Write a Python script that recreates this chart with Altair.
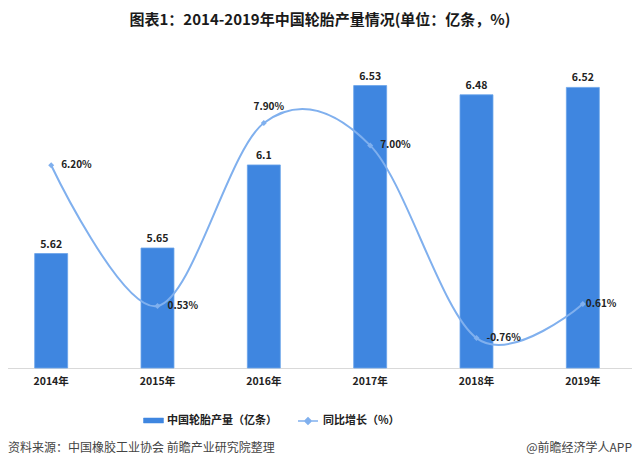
import altair as alt
import pandas as pd

# ---- data ----
years = ["2014年", "2015年", "2016年", "2017年", "2018年", "2019年"]
output = [5.62, 5.65, 6.1, 6.53, 6.48, 6.52]
growth = [6.20, 0.53, 7.90, 7.00, -0.76, 0.61]
series_bar = "中国轮胎产量（亿条）"
series_line = "同比增长（%）"
title_text = "图表1：2014-2019年中国轮胎产量情况(单位：亿条，%)"
source_left = "资料来源：中国橡胶工业协会 前瞻产业研究院整理"
source_right = "@前瞻经济学人APP"
bar_axis_min = 5

df = pd.DataFrame({"year": years, "output": output, "growth": growth})
df["bar_series"] = series_bar
df["line_series"] = series_line
df["growth_label"] = [f"{g:.2f}%" for g in growth]

FONT = "Noto Sans CJK SC"
BAR = "#3f86e0"
LINE = "#80b0ee"

RECT_PATH = "M-1,-0.25H1V0.25H-1Z"
LINE_PATH = "M-1,0H1M0,-0.32L0.32,0L0,0.32L-0.32,0Z"

x = alt.X(
    "year:N", sort=years,
    scale=alt.Scale(range=[-10, 628], paddingInner=0.69, paddingOuter=0.345),
    axis=alt.Axis(title=None, labelAngle=0, ticks=False, grid=False,
                  domainColor="#d9d9d9", domainWidth=1,
                  labelFont=FONT, labelFontSize=10.5, labelFontWeight="bold",
                  labelColor="#222222", labelPadding=8),
)
y_bar = alt.Y("output:Q", scale=alt.Scale(domain=[bar_axis_min, 6.7335], zero=False, nice=False), axis=None)
y_line = alt.Y("growth:Q", scale=alt.Scale(domain=[-1.965, 10.922], zero=False, nice=False), axis=None)

base = alt.Chart(df)

bars = base.mark_bar(stroke="#6aa3ea", strokeWidth=0.8).encode(
    x=x, y=y_bar, y2=alt.datum(bar_axis_min),
    fill=alt.Fill("bar_series:N",
                  scale=alt.Scale(domain=[series_bar], range=[BAR]),
                  legend=alt.Legend(title=None, orient="none", legendX=135, legendY=362,
                                    symbolType=RECT_PATH, symbolSize=400,
                                    symbolFillColor=BAR, symbolStrokeColor=BAR,
                                    symbolStrokeWidth=0.5, symbolOpacity=1,
                                    labelFont=FONT, labelFontSize=11, labelFontWeight="bold",
                                    labelColor="#222222", labelOffset=3, padding=0)),
)
bar_labels = base.mark_text(baseline="bottom", dy=-4, font=FONT, fontSize=10.5,
                            fontWeight="bold", color="#222222").encode(
    x=x, y=y_bar, text="output:N")

line = base.mark_line(interpolate="cardinal", strokeWidth=2).encode(
    x=x, y=y_line,
    stroke=alt.Stroke("line_series:N",
                      scale=alt.Scale(domain=[series_line], range=[LINE]),
                      legend=alt.Legend(title=None, orient="none", legendX=289, legendY=362,
                                        symbolType=LINE_PATH, symbolSize=400,
                                        symbolFillColor=LINE, symbolStrokeWidth=1.5,
                                        labelFont=FONT, labelFontSize=11, labelFontWeight="bold",
                                        labelColor="#222222", labelOffset=4, padding=0)),
)
points = base.mark_point(filled=True, shape="diamond", size=36, color=LINE, opacity=1).encode(
    x=x, y=y_line)

lbl_style = dict(font=FONT, fontSize=10, fontWeight="bold", color="#222222", baseline="middle")
line_labels_right = base.transform_filter(
    ~alt.FieldOneOfPredicate(field="year", oneOf=[years[2], years[5]])
).mark_text(align="left", dx=10, **lbl_style).encode(x=x, y=y_line, text="growth_label:N")
line_label_top = base.transform_filter(
    alt.FieldEqualPredicate(field="year", equal=years[2])
).mark_text(align="center", dx=5, dy=-16, **lbl_style).encode(x=x, y=y_line, text="growth_label:N")
line_label_last = base.transform_filter(
    alt.FieldEqualPredicate(field="year", equal=years[5])
).mark_text(align="left", dx=3, **lbl_style).encode(x=x, y=y_line, text="growth_label:N")

foot_l = alt.Chart(pd.DataFrame({"t": [source_left]})).mark_text(
    align="left", baseline="middle", font=FONT, fontSize=12, color="#444444").encode(
    x=alt.value(0), y=alt.value(400), text="t:N")
foot_r = alt.Chart(pd.DataFrame({"t": [source_right]})).mark_text(
    align="right", baseline="middle", font=FONT, fontSize=12, color="#444444").encode(
    x=alt.value(624), y=alt.value(400), text="t:N")

chart = alt.layer(
    bars, bar_labels, line, points, line_labels_right, line_label_top, line_label_last,
    foot_l, foot_r
).resolve_scale(y="independent").properties(
    width=624, height=320,
    autosize=alt.AutoSizeParams(type="none"),
    padding={"left": 0, "right": 0, "top": 40, "bottom": 96},
    title=alt.TitleParams(title_text, font=FONT, fontSize=15, fontWeight="bold",
                          color="#1a1a1a", anchor="middle", offset=20),
    background="white",
).configure_view(stroke=None)

chart.save("out.html", embed_options={"renderer": "svg", "actions": False})
